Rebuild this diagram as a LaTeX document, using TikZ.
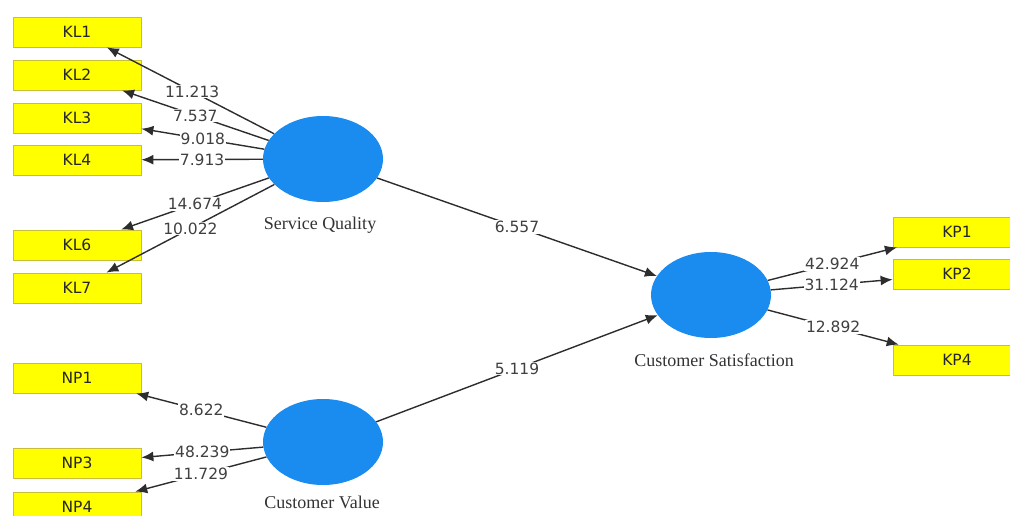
\documentclass[tikz,border=0pt]{standalone}
\usepackage{fontspec}
\setmainfont{Liberation Serif}
\newfontfamily\numfont{DejaVu Sans}
\usetikzlibrary{arrows.meta,shapes.geometric}
\definecolor{boxyellow}{RGB}{255,255,0}
\definecolor{boxedge}{RGB}{200,190,60}
\definecolor{latblue}{RGB}{26,140,240}
\definecolor{linecol}{RGB}{45,45,45}
\begin{document}
\begin{tikzpicture}[x=1pt,y=-1pt,
  ind/.style={draw=boxedge,line width=0.8pt,fill=boxyellow,minimum width=128pt,minimum height=30pt,inner sep=0pt,font=\numfont\fontsize{15.5}{17}\selectfont,text=black!85},
  lat/.style={ellipse,fill=latblue,draw=none,minimum width=120pt,minimum height=86pt,inner sep=0pt},
  latlabel/.style={font=\fontsize{18}{21}\selectfont,text=black!80},
  conn/.style={draw=linecol,line width=1.4pt,-{Latex[length=12pt,width=10pt]}},
  val/.style={fill=white,inner sep=1pt,font=\numfont\fontsize{15.5}{17}\selectfont,text=black!75}]
\useasboundingbox (0,0) rectangle (1010,516);
\clip (0,0) rectangle (1010,516);
% indicator boxes
\node[ind] (kl1) at (77,32) {KL1};
\node[ind] (kl2) at (77,75) {KL2};
\node[ind] (kl3) at (77,118) {KL3};
\node[ind] (kl4) at (77,160) {KL4};
\node[ind] (kl6) at (77,245) {KL6};
\node[ind] (kl7) at (77,288) {KL7};
\node[ind] (np1) at (77,378) {NP1};
\node[ind] (np3) at (77,463) {NP3};
\node[ind] (np4) at (77,507) {NP4};
\node[ind] (kp1) at (957,232) {KP1};
\node[ind] (kp2) at (957,274) {KP2};
\node[ind] (kp4) at (957,360) {KP4};
% latent variables
\node[lat] (sq) at (323,159) {};
\node[lat] (cv) at (323,442) {};
\node[lat] (cs) at (711,295) {};
\node[latlabel] (sql) at (320,225) {Service Quality};
\node[latlabel] (cvl) at (322,502) {Customer Value};
\node[latlabel] (csl) at (714,360) {Customer Satisfaction};
% outer loadings
\draw[conn] (sq) -- node[val,pos=0.49] {11.213} (kl1);
\draw[conn] (sq) -- node[val,pos=0.5] {7.537} (kl2);
\draw[conn] (sq) -- node[val,pos=0.5] {9.018} (kl3);
\draw[conn] (sq) -- node[val,pos=0.5] {7.913} (kl4);
\draw[conn] (sq) -- node[val,pos=0.5] {14.674} (kl6);
\draw[conn] (sq) -- node[val,pos=0.5] {10.022} (kl7);
\draw[conn] (cv) -- node[val,pos=0.5] {8.622} (np1);
\draw[conn] (cv) -- node[val,pos=0.5] {48.239} (np3);
\draw[conn] (cv) -- node[val,pos=0.5] {11.729} (np4);
\draw[conn] (cs) -- node[val,pos=0.5] {42.924} (kp1);
\draw[conn] (cs) -- node[val,pos=0.5] {31.124} (kp2);
\draw[conn] (cs) -- node[val,pos=0.5] {12.892} (kp4);
% paths
\draw[conn] (sq) -- node[val,pos=0.5] {6.557} (cs);
\draw[conn] (cv) -- node[val,pos=0.5] {5.119} (cs);
\end{tikzpicture}
\end{document}
